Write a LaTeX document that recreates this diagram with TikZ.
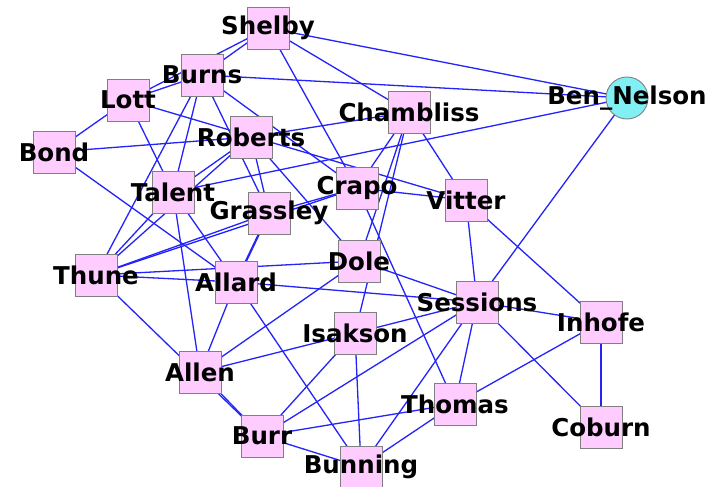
\documentclass[tikz,border=0pt]{standalone}
\usepackage{fontspec}
\setmainfont{DejaVu Sans}
\usepackage{tikz}
\usetikzlibrary{backgrounds}
\definecolor{senpink}{RGB}{255,204,255}
\definecolor{nelsoncyan}{RGB}{128,240,245}
\definecolor{edgeblue}{RGB}{35,35,250}

\begin{document}
\begin{tikzpicture}[x=1pt, y=-1pt,
  senbox/.style={draw=gray, fill=senpink, line width=0.9pt, minimum size=42pt, inner sep=0pt},
  nelson/.style={draw=gray, fill=nelsoncyan, circle, line width=0.9pt, minimum size=42pt, inner sep=0pt},
  lbl/.style={font=\fontsize{24.5}{28}\selectfont\bfseries, inner sep=0pt},
  link/.style={draw=edgeblue, line width=1.3pt}]
 \useasboundingbox (0,0) rectangle (721,487);
 % senators
 \foreach \n/\x/\y in {Shelby/268/28, Burns/202/75, Lott/128/100, Bond/54/152, Roberts/251/137,
   Chambliss/409/112, Talent/173/192, Grassley/269/213, Crapo/357/188, Vitter/466/200,
   Dole/359/261, Thune/96/275, Allard/236/282, Sessions/477/302, Inhofe/601/322,
   Isakson/355/333, Allen/200/372, Thomas/455/404, Coburn/601/427, Burr/262/436, Bunning/361/467}{
   \node[senbox] (\n) at (\x,\y) {};
 }
 \node[nelson] (BenNelson) at (627,98) {};
 % links
 \begin{scope}[on background layer]
 \fill[white] (0,0) rectangle (721,487);
 \foreach \a/\b in {Shelby/Burns, Shelby/Lott, Shelby/BenNelson, Shelby/Chambliss, Shelby/Crapo,
   Burns/Lott, Burns/BenNelson, Burns/Grassley, Burns/Crapo, Burns/Talent, Burns/Thune,
   Lott/Bond, Lott/Vitter, Lott/Talent, Bond/Roberts, Bond/Allard,
   Roberts/Chambliss, Roberts/Grassley, Roberts/Dole, Roberts/Talent, Roberts/Thune,
   Talent/BenNelson, Talent/Thune, Talent/Allard, Talent/Allen,
   Grassley/Thune, Grassley/Crapo,
   Crapo/Thune, Crapo/Vitter, Crapo/Thomas, Crapo/Chambliss,
   Chambliss/Dole, Chambliss/Isakson, Chambliss/Vitter,
   Thune/Allard, Thune/Dole, Thune/Burr,
   Allard/Sessions, Allard/Allen, Allard/Bunning, Dole/Allen, Dole/Sessions,
   BenNelson/Sessions, Vitter/Sessions, Vitter/Inhofe,
   Sessions/Inhofe, Sessions/Coburn, Sessions/Thomas, Sessions/Bunning, Sessions/Burr, Sessions/Isakson,
   Inhofe/Coburn, Inhofe/Thomas, Thomas/Burr, Thomas/Bunning,
   Isakson/Allen, Isakson/Burr, Isakson/Bunning, Allen/Burr, Burr/Bunning}{
   \draw[link] (\a.center) -- (\b.center);
 }
 \draw[link, line width=2.2pt] (Grassley.center) -- (Allard.center);
 \end{scope}
 % names on top
 \foreach \n/\t in {Shelby/Shelby, Burns/Burns, Lott/Lott, Bond/Bond, Roberts/Roberts,
   Chambliss/Chambliss, Talent/Talent, Grassley/Grassley, Crapo/Crapo, Vitter/Vitter,
   Dole/Dole, Thune/Thune, Allard/Allard, Sessions/Sessions, Inhofe/Inhofe,
   Isakson/Isakson, Allen/Allen, Thomas/Thomas, Coburn/Coburn, Burr/Burr, Bunning/Bunning,
   BenNelson/Ben\_Nelson}{
   \node[lbl] (\n-name) at (\n) {\t};
 }
\end{tikzpicture}
\end{document}
